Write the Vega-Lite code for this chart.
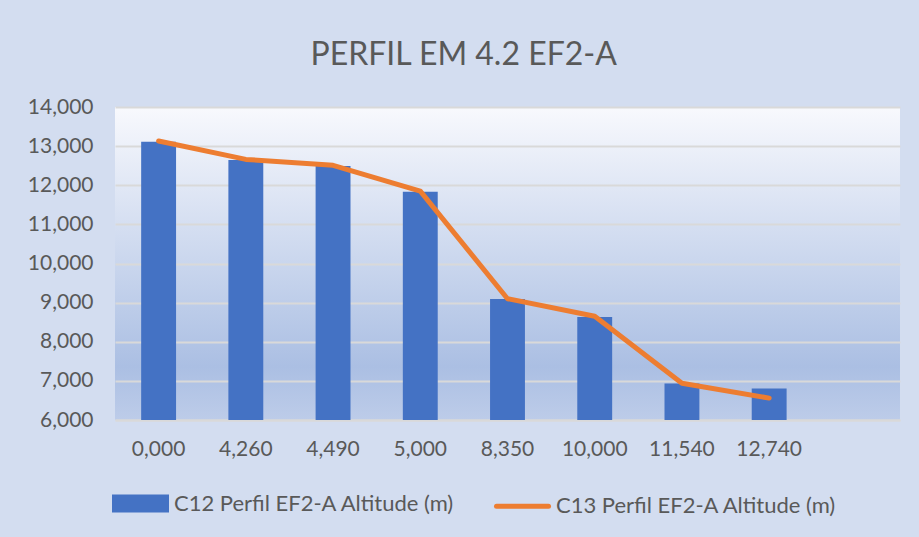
{
  "$schema": "https://vega.github.io/schema/vega-lite/v6.json",
  "width": 785,
  "height": 313,
  "autosize": {"type": "none"},
  "padding": {"left": 115, "top": 107, "right": 19, "bottom": 117},
  "background": "#d3ddf0",
  "title": {
    "text": "PERFIL EM 4.2 EF2-A",
    "font": "Lato",
    "fontSize": 32,
    "fontWeight": "normal",
    "color": "#595959",
    "anchor": "middle",
    "frame": "bounds",
    "offset": 24
  },
  "data": {
    "values": [
      {"km": "0,000", "series": "C12 Perfil EF2-A Altitude (m)", "altitude": 13110},
      {"km": "4,260", "series": "C12 Perfil EF2-A Altitude (m)", "altitude": 12645},
      {"km": "4,490", "series": "C12 Perfil EF2-A Altitude (m)", "altitude": 12490},
      {"km": "5,000", "series": "C12 Perfil EF2-A Altitude (m)", "altitude": 11835},
      {"km": "8,350", "series": "C12 Perfil EF2-A Altitude (m)", "altitude": 9090},
      {"km": "10,000", "series": "C12 Perfil EF2-A Altitude (m)", "altitude": 8630},
      {"km": "11,540", "series": "C12 Perfil EF2-A Altitude (m)", "altitude": 6935},
      {"km": "12,740", "series": "C12 Perfil EF2-A Altitude (m)", "altitude": 6805},
      {"km": "0,000", "series": "C13 Perfil EF2-A Altitude (m)", "altitude": 13130},
      {"km": "4,260", "series": "C13 Perfil EF2-A Altitude (m)", "altitude": 12660},
      {"km": "4,490", "series": "C13 Perfil EF2-A Altitude (m)", "altitude": 12510},
      {"km": "5,000", "series": "C13 Perfil EF2-A Altitude (m)", "altitude": 11850},
      {"km": "8,350", "series": "C13 Perfil EF2-A Altitude (m)", "altitude": 9100},
      {"km": "10,000", "series": "C13 Perfil EF2-A Altitude (m)", "altitude": 8650},
      {"km": "11,540", "series": "C13 Perfil EF2-A Altitude (m)", "altitude": 6940},
      {"km": "12,740", "series": "C13 Perfil EF2-A Altitude (m)", "altitude": 6560}
    ]
  },
  "encoding": {
    "x": {
      "field": "km",
      "type": "nominal",
      "sort": ["0,000", "4,260", "4,490", "5,000", "8,350", "10,000", "11,540", "12,740"],
      "scale": {"paddingInner": 0.6, "paddingOuter": 0.8, "align": 0.1875},
      "axis": {
        "title": null,
        "labelAngle": 0,
        "ticks": false,
        "grid": false,
        "domainColor": "#d9d9d9",
        "domainWidth": 2,
        "labelPadding": 18,
        "labelFont": "Lato",
        "labelFontSize": 21,
        "labelColor": "#595959"
      }
    },
    "y": {
      "field": "altitude",
      "type": "quantitative",
      "scale": {"domain": [6000, 14000], "nice": false, "zero": false},
      "axis": {
        "title": null,
        "values": [6000, 7000, 8000, 9000, 10000, 11000, 12000, 13000, 14000],
        "format": ",d",
        "ticks": false,
        "domain": false,
        "labelOverlap": false,
        "gridColor": "#d9d9d9",
        "gridWidth": 2,
        "labelPadding": 22,
        "labelFont": "Lato",
        "labelFontSize": 21,
        "labelColor": "#595959"
      }
    },
    "color": {
      "field": "series",
      "type": "nominal",
      "scale": {
        "domain": ["C12 Perfil EF2-A Altitude (m)", "C13 Perfil EF2-A Altitude (m)"],
        "range": ["#4472c4", "#ed7d31"]
      },
      "legend": {
        "orient": "none",
        "legendX": -3,
        "legendY": 368,
        "direction": "horizontal",
        "title": null,
        "labelFont": "Lato",
        "labelFontSize": 22,
        "labelColor": "#595959",
        "labelLimit": 400,
        "symbolSize": 2704,
        "columnPadding": 31,
        "labelOffset": 5,
        "symbolOpacity": 1,
        "encode": {
          "symbols": {
            "update": {
              "shape": {"signal": "datum.value === 'C12 Perfil EF2-A Altitude (m)' ? 'M-1,-0.25H1V0.25H-1Z' : 'M-1,0H1'"},
              "fill": {"signal": "datum.value === 'C12 Perfil EF2-A Altitude (m)' ? '#4472c4' : 'transparent'"},
              "stroke": {"signal": "datum.value === 'C12 Perfil EF2-A Altitude (m)' ? 'transparent' : '#ed7d31'"},
              "strokeWidth": {"value": 5},
              "strokeCap": {"value": "round"},
              "opacity": {"value": 1}
            }
          }
        }
      }
    }
  },
  "layer": [
    {
      "transform": [{"filter": "datum.series === 'C12 Perfil EF2-A Altitude (m)'"}],
      "mark": {"type": "bar", "color": "#4472c4"},
      "encoding": {
        "y2": {"datum": 6000}
      }
    },
    {
      "transform": [{"filter": "datum.series === 'C13 Perfil EF2-A Altitude (m)'"}],
      "mark": {"type": "line", "strokeWidth": 5, "strokeCap": "round", "strokeJoin": "round"},
      "encoding": {}
    }
  ],
  "config": {
    "view": {
      "stroke": null,
      "fill": {
        "gradient": "linear",
        "x1": 0, "y1": 0, "x2": 0, "y2": 1,
        "stops": [
          {"offset": 0, "color": "#f8f9fd"},
          {"offset": 0.83, "color": "#abbfe3"},
          {"offset": 1, "color": "#bdcce9"}
        ]
      }
    }
  }
}
